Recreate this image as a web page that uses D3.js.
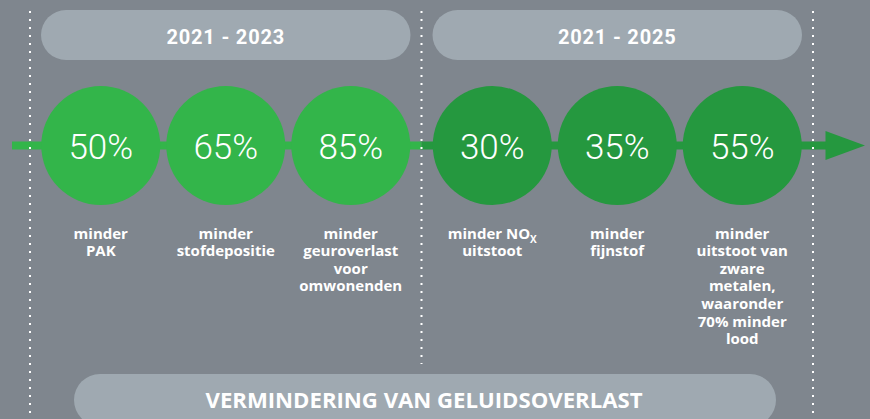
<!DOCTYPE html>
<html>
<head>
<meta charset="utf-8">
<script src="https://cdn.jsdelivr.net/npm/d3@7"></script>
<style>
  body { margin: 0; background: #7f868e; }
  svg { display: block; }
</style>
</head>
<body>
<div id="chart"></div>
<script>
const periods = ["2021 - 2023", "2021 - 2025"];
const values = [50, 65, 85, 30, 35, 55];
const periodOf = [0, 0, 0, 1, 1, 1];
const labels = [
  ["minder", "PAK"],
  ["minder", "stofdepositie"],
  ["minder", "geuroverlast", "voor", "omwonenden"],
  ["minder NO|X", "uitstoot"],
  ["minder", "fijnstof"],
  ["minder", "uitstoot van", "zware", "metalen,", "waaronder", "70% minder", "lood"],
];
const footer = "VERMINDERING VAN GELUIDSOVERLAST";

const makePlot = () => {
  const container = d3.select("#chart");
  container.selectAll("*").remove();

  const size = { width: 870, height: 419 };
  const colors = { bg: "#7f868e", pill: "#9fa9b1", light: "#33b54a", dark: "#25983f" };

  const svg = container.append("svg")
    .attr("width", size.width)
    .attr("height", size.height);

  svg.append("rect")
    .attr("width", size.width).attr("height", size.height)
    .attr("fill", colors.bg);

  // one band per period, circles spread inside it
  const band = d3.scaleBand().domain(periods.map((d, i) => i)).range([30, 813]);
  const inner = d3.scalePoint().domain([0, 1, 2]).range([-125, 125]);
  const cx = (i) => {
    const p = periodOf[i];
    const idx = periodOf.slice(0, i).filter((q) => q === p).length;
    return band(p) + band.bandwidth() / 2 + inner(idx);
  };
  const cy = 145.5;
  const r = 59.5;

  // period header pills
  const heads = svg.selectAll("g.head").data(periods).join("g").attr("class", "head");
  heads.append("rect")
    .attr("x", (d, i) => band(i) + 11)
    .attr("y", 10)
    .attr("width", band.bandwidth() - 22)
    .attr("height", 50)
    .attr("rx", 25)
    .attr("fill", colors.pill);
  heads.append("text")
    .attr("x", (d, i) => band(i) + band.bandwidth() / 2)
    .attr("y", 44)
    .attr("text-anchor", "middle")
    .attr("fill", "white")
    .style("font-family", "Roboto")
    .style("font-weight", "700")
    .style("font-size", "20px")
    .style("letter-spacing", "0.8px")
    .text((d) => d);

  // bottom pill
  svg.append("rect")
    .attr("x", 74).attr("y", 374)
    .attr("width", 702).attr("height", 52)
    .attr("rx", 26)
    .attr("fill", colors.pill);
  svg.append("text")
    .attr("x", 424).attr("y", 407.5)
    .attr("text-anchor", "middle")
    .attr("fill", "white")
    .attr("textLength", 437)
    .attr("lengthAdjust", "spacingAndGlyphs")
    .style("font-family", "Open Sans")
    .style("font-weight", "700")
    .style("font-size", "22px")
    .text(footer);

  // timeline line + arrow
  const split = band(1);
  svg.append("rect")
    .attr("x", 12).attr("y", cy - 4).attr("width", split - 12).attr("height", 8)
    .attr("fill", colors.light);
  svg.append("rect")
    .attr("x", split).attr("y", cy - 4).attr("width", 826 - split).attr("height", 8)
    .attr("fill", colors.dark);
  svg.append("path")
    .attr("d", `M825.5,${cy - 14.5}L865,${cy}L825.5,${cy + 14.5}Z`)
    .attr("fill", colors.dark);

  // dotted separators
  const seps = [
    { x: band(0), y2: 419 },
    { x: band(1), y2: 364 },
    { x: band(1) + band.bandwidth(), y2: 419 },
  ];
  svg.selectAll("line.sep").data(seps).join("line")
    .attr("class", "sep")
    .attr("x1", (d) => d.x).attr("x2", (d) => d.x)
    .attr("y1", 11).attr("y2", (d) => d.y2)
    .attr("stroke", "white")
    .attr("stroke-width", 2)
    .attr("stroke-dasharray", "2 6");

  // circles
  const items = svg.selectAll("g.item").data(values).join("g").attr("class", "item");
  items.append("circle")
    .attr("cx", (d, i) => cx(i))
    .attr("cy", cy)
    .attr("r", r)
    .attr("fill", (d, i) => (periodOf[i] === 0 ? colors.light : colors.dark));
  items.append("text")
    .attr("x", (d, i) => cx(i))
    .attr("y", cy + 13)
    .attr("text-anchor", "middle")
    .attr("fill", "white")
    .style("font-family", "Roboto")
    .style("font-weight", "300")
    .style("font-size", "35px")
    .text((d) => d + "%");

  // labels under the circles
  const lab = items.append("text")
    .attr("text-anchor", "middle")
    .attr("fill", "white")
    .style("font-family", "Open Sans")
    .style("font-weight", "700")
    .style("font-size", "15px");
  lab.each(function (d, i) {
    const t = d3.select(this);
    labels[i].forEach((line, j) => {
      const [main, sub] = line.split("|");
      t.append("tspan")
        .attr("x", cx(i))
        .attr("y", 238.5 + j * 17.6)
        .text(main);
      if (sub) {
        t.append("tspan")
          .attr("dy", 4)
          .style("font-size", "10px")
          .text(sub);
      }
    });
  });
};

makePlot();
</script>
</body>
</html>
